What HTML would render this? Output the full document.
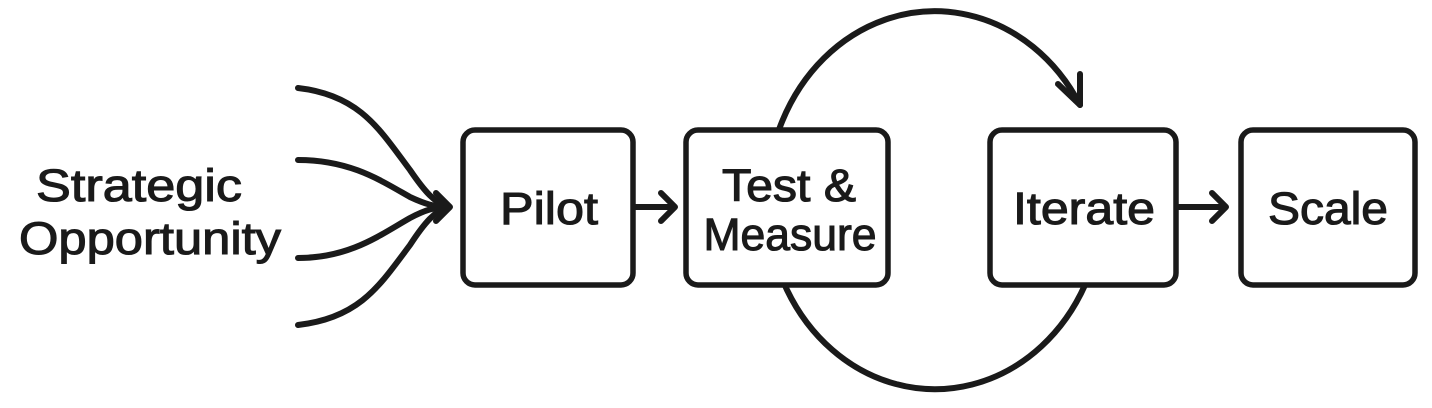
<!DOCTYPE html>
<html><head><style>
html,body{margin:0;padding:0;background:#fff;}
svg{display:block}
text{font-family:"Liberation Sans",sans-serif;fill:#1a1a1a;stroke:#1a1a1a;stroke-width:1.1px;text-anchor:middle;font-size:45px}
</style></head><body>
<svg width="1432" height="408" viewBox="0 0 1432 408" xmlns="http://www.w3.org/2000/svg">
<rect width="1432" height="408" fill="#fff"/>
<g fill="none" stroke="#1a1a1a" stroke-width="6" stroke-linecap="round" stroke-linejoin="round">
  <path d="M1085 285 A168 189 0 1 1 1080 105"/>
  <path d="M1058 84 L1080 105 L1080 74"/>
  <path d="M298 88 C360 95 380 130 410 170 C425 192 435 203 448 207"/>
  <path d="M298 160 C350 160 380 180 410 197 C425 204 435 207 448 207"/>
  <path d="M298 258 C350 258 380 235 410 218 C425 210 435 207 448 207"/>
  <path d="M298 325 C360 318 380 285 410 245 C425 222 435 211 448 207"/>
  <path d="M436 193 L450 207 L436 221"/>
  <path d="M633 207 L674 207 M661 193 L675 207 L661 221"/>
  <path d="M1177 207 L1225 207 M1212 193 L1226 207 L1212 221"/>
</g>
<g fill="#fff" stroke="#1a1a1a" stroke-width="5.5">
  <rect x="463" y="130" width="170" height="155" rx="12"/>
  <rect x="686" y="130" width="202" height="155" rx="12"/>
  <rect x="990" y="130" width="186" height="155" rx="12"/>
  <rect x="1241" y="130" width="174" height="155" rx="12"/>
</g>
<text x="139" y="201" textLength="206" lengthAdjust="spacingAndGlyphs">Strategic</text>
<text x="150" y="254" textLength="262" lengthAdjust="spacingAndGlyphs">Opportunity</text>
<text x="549" y="224" textLength="98" lengthAdjust="spacingAndGlyphs">Pilot</text>
<text x="789" y="201" textLength="134" lengthAdjust="spacingAndGlyphs">Test &amp;</text>
<text x="790" y="250" textLength="173" lengthAdjust="spacingAndGlyphs">Measure</text>
<text x="1084" y="224" textLength="142" lengthAdjust="spacingAndGlyphs">Iterate</text>
<text x="1328" y="224" textLength="120" lengthAdjust="spacingAndGlyphs">Scale</text>
</svg>
</body></html>
